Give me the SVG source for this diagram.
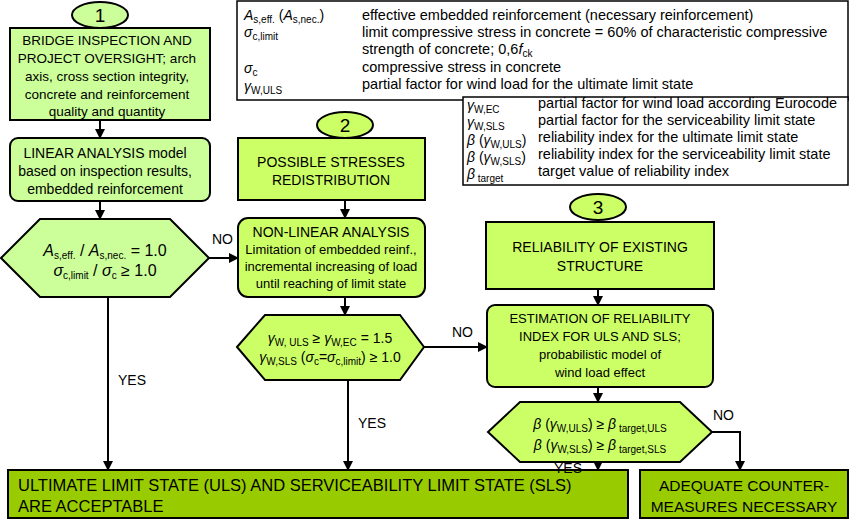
<svg xmlns="http://www.w3.org/2000/svg" width="850" height="520" viewBox="0 0 850 520">
<style>
text{font-family:"Liberation Sans",Arial,sans-serif;font-size:14px;fill:#000}
.c{text-anchor:middle}
.l{font-size:13px}
.g{font-size:14.5px}
.s{font-size:10px}
.i{font-style:italic}
.a{fill:#ccff99;stroke:#000;stroke-width:2}
.b{fill:#ccff66;stroke:#000;stroke-width:2}
.d{fill:#99cc00;stroke:#000;stroke-width:2}
.e{fill:#ccff66;stroke:#000;stroke-width:2}
.w{fill:#fff;stroke:#000;stroke-width:1.5}
.k{fill:none;stroke:#000;stroke-width:2;marker-end:url(#ar)}
</style>
<defs><marker id="ar" viewBox="0 0 10 10" refX="9" refY="5" markerWidth="5" markerHeight="5" orient="auto"><path d="M0,0L10,5L0,10z" fill="#000"/></marker></defs>

<g id="legend">
<rect class="w" x="237" y="1" width="611" height="99"/>
<rect class="w" x="463" y="97" width="385" height="88"/>
<text x="244" y="20"><tspan class="i">A</tspan><tspan class="s" dy="3">s,eff.</tspan><tspan dy="-3"> (</tspan><tspan class="i">A</tspan><tspan class="s" dy="3">s,nec.</tspan><tspan dy="-3">)</tspan></text>
<text x="244" y="37"><tspan class="i">σ</tspan><tspan class="s" dy="3">c,limit</tspan></text>
<text x="244" y="73"><tspan class="i">σ</tspan><tspan class="s" dy="3">c</tspan></text>
<text x="244" y="91"><tspan class="i">γ</tspan><tspan class="s" dy="3">W,ULS</tspan></text>
<text x="362" y="20" class="g">effective embedded reinforcement (necessary reinforcement)</text>
<text x="362" y="37" class="g">limit compressive stress in concrete = 60% of characteristic compressive</text>
<text x="362" y="54" class="g">strength of concrete; 0,6<tspan class="i">f</tspan><tspan class="s" dy="3">ck</tspan></text>
<text x="362" y="72" class="g">compressive stress in concrete</text>
<text x="362" y="89" class="g">partial factor for wind load for the ultimate limit state</text>
<text x="467" y="110"><tspan class="i">γ</tspan><tspan class="s" dy="3">W,EC</tspan></text>
<text x="467" y="127"><tspan class="i">γ</tspan><tspan class="s" dy="3">W,SLS</tspan></text>
<text x="467" y="145"><tspan class="i">β</tspan> (<tspan class="i">γ</tspan><tspan class="s" dy="3">W,ULS</tspan><tspan dy="-3">)</tspan></text>
<text x="467" y="162"><tspan class="i">β</tspan> (<tspan class="i">γ</tspan><tspan class="s" dy="3">W,SLS</tspan><tspan dy="-3">)</tspan></text>
<text x="467" y="179"><tspan class="i">β</tspan><tspan class="s" dy="3"> target</tspan></text>
<text x="538" y="108" class="g">partial factor for wind load according Eurocode</text>
<text x="538" y="125" class="g">partial factor for the serviceability limit state</text>
<text x="538" y="142" class="g">reliability index for the ultimate limit state</text>
<text x="538" y="159" class="g">reliability index for the serviceability limit state</text>
<text x="538" y="176" class="g">target value of reliability index</text>
</g>

<g id="n1"><ellipse class="a" cx="100" cy="15" rx="28" ry="13"/><text class="c" x="100" y="22" style="font-size:19px">1</text></g>
<g id="n2"><ellipse class="b" cx="345" cy="125" rx="28" ry="13"/><text class="c" x="345" y="132" style="font-size:19px">2</text></g>
<g id="n3"><ellipse class="b" cx="598" cy="207" rx="28" ry="13"/><text class="c" x="598" y="214" style="font-size:19px">3</text></g>

<g id="inspection"><rect class="a" x="10" y="28" width="200" height="92"/>
<text class="c" x="107" y="45" style="font-size:13.5px">BRIDGE INSPECTION AND</text>
<text class="c" x="107" y="63" style="font-size:13.5px">PROJECT OVERSIGHT; arch</text>
<text class="c" x="107" y="81" style="font-size:13.5px">axis, cross section integrity,</text>
<text class="c" x="107" y="99" style="font-size:13.5px">concrete and reinforcement</text>
<text class="c" x="107" y="116" style="font-size:13.5px">quality and quantity</text></g>

<g id="linear"><rect class="a" x="10" y="138" width="200" height="63" rx="8"/>
<text class="c" x="105" y="158">LINEAR ANALYSIS model</text>
<text class="c" x="105" y="176">based on inspection results,</text>
<text class="c" x="105" y="194">embedded reinforcement</text></g>

<g id="check1"><polygon class="a" points="1,258 40,219 170,219 209,258 170,297 40,297"/>
<text class="c" x="105" y="256" style="font-size:16px"><tspan class="i">A</tspan><tspan class="s" dy="3">s,eff.</tspan><tspan dy="-3"> / </tspan><tspan class="i">A</tspan><tspan class="s" dy="3">s,nec.</tspan><tspan dy="-3"> = 1.0</tspan></text>
<text class="c" x="105" y="276" style="font-size:16px"><tspan class="i">σ</tspan><tspan class="s" dy="3">c,limit</tspan><tspan dy="-3"> / </tspan><tspan class="i">σ</tspan><tspan class="s" dy="3">c</tspan><tspan dy="-3"> ≥ 1.0</tspan></text></g>

<g id="redistribution"><rect class="e" x="238" y="138" width="187" height="62"/>
<text class="c" x="331" y="167">POSSIBLE STRESSES</text>
<text class="c" x="331" y="185">REDISTRIBUTION</text></g>

<g id="nonlinear"><rect class="e" x="238" y="218" width="187" height="79" rx="10"/>
<text class="c" x="331" y="237">NON-LINEAR ANALYSIS</text>
<text class="l c" x="331" y="254">Limitation of embedded reinf.,</text>
<text class="l c" x="331" y="271">incremental increasing of load</text>
<text class="l c" x="331" y="288">until reaching of limit state</text></g>

<g id="check2"><polygon class="e" points="237,347 265,315 400,315 424,347 400,380 265,380"/>
<text class="c" x="330" y="343"><tspan class="i">γ</tspan><tspan class="s" dy="3">W, ULS</tspan><tspan dy="-3"> ≥ </tspan><tspan class="i">γ</tspan><tspan class="s" dy="3">W,EC</tspan><tspan dy="-3"> = 1.5</tspan></text>
<text class="c" x="330" y="362"><tspan class="i">γ</tspan><tspan class="s" dy="3">W,SLS</tspan><tspan dy="-3"> (</tspan><tspan class="i">σ</tspan><tspan class="s" dy="3">c</tspan><tspan dy="-3">=</tspan><tspan class="i">σ</tspan><tspan class="s" dy="3">c,limit</tspan><tspan dy="-3">) ≥ 1.0</tspan></text></g>

<g id="reliability"><rect class="e" x="486" y="222" width="228" height="67"/>
<text class="c" x="600" y="252">RELIABILITY OF EXISTING</text>
<text class="c" x="600" y="271">STRUCTURE</text></g>

<g id="estimation"><rect class="e" x="487" y="305" width="226" height="82" rx="8"/>
<text class="l c" x="600" y="323">ESTIMATION OF RELIABILITY</text>
<text class="l c" x="600" y="341">INDEX FOR ULS AND SLS;</text>
<text class="l c" x="600" y="359">probabilistic model of</text>
<text class="l c" x="600" y="377">wind load effect</text></g>

<g id="check3"><polygon class="e" points="488,432 520,402 680,402 712,432 680,462 520,462"/>
<text class="c" x="600" y="429"><tspan class="i">β</tspan> (<tspan class="i">γ</tspan><tspan class="s" dy="3">W,ULS</tspan><tspan dy="-3">) ≥ </tspan><tspan class="i">β</tspan><tspan class="s" dy="3"> target,ULS</tspan></text>
<text class="c" x="600" y="450"><tspan class="i">β</tspan> (<tspan class="i">γ</tspan><tspan class="s" dy="3">W,SLS</tspan><tspan dy="-3">) ≥ </tspan><tspan class="i">β</tspan><tspan class="s" dy="3"> target,SLS</tspan></text></g>

<g id="uls"><rect class="d" x="8" y="470" width="620" height="48"/>
<text x="18" y="491" style="font-size:16.5px">ULTIMATE LIMIT STATE (ULS) AND SERVICEABILITY LIMIT STATE (SLS)</text>
<text x="18" y="512" style="font-size:16.5px">ARE ACCEPTABLE</text></g>

<g id="counter"><rect class="d" x="640" y="470" width="208" height="48"/>
<text class="c" x="744" y="491" style="font-size:15.5px">ADEQUATE COUNTER-</text>
<text class="c" x="744" y="512" style="font-size:15.5px">MEASURES NECESSARY</text></g>

<g id="connectors">
<path class="k" d="M100,120V138"/>
<path class="k" d="M100,201V219"/>
<path class="k" d="M108,297V470"/>
<path class="k" d="M209,258H238"/>
<path class="k" d="M345,200V218"/>
<path class="k" d="M345,297V315"/>
<path class="k" d="M348,380V470"/>
<path class="k" d="M424,347H487"/>
<path class="k" d="M598,289V305"/>
<path class="k" d="M598,387V402"/>
<path class="k" d="M598,462V470"/>
<path class="k" d="M712,432H740V470"/>
<text x="212" y="244">NO</text>
<text x="118" y="385">YES</text>
<text x="358" y="428">YES</text>
<text x="452" y="337">NO</text>
<text x="554" y="473">YES</text>
<text x="713" y="420">NO</text>
</g>
</svg>
